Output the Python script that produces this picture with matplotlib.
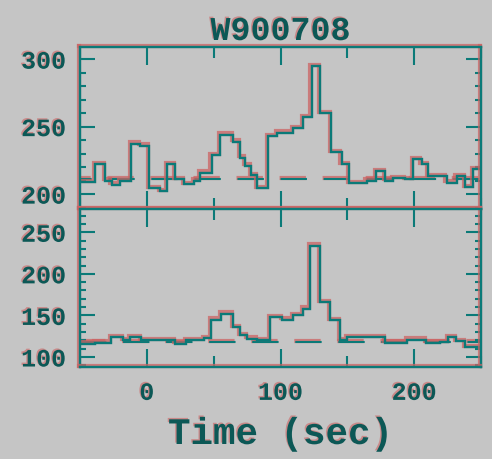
import numpy as np
import matplotlib
matplotlib.use('Agg')
import matplotlib.pyplot as plt
import matplotlib.patheffects as pe
from matplotlib.ticker import MultipleLocator

# light curves (time in sec, counts per bin)
title = 'W900708'
xlabel = 'Time (sec)'

top_edges = [-50, -38.8, -31.3, -26.4, -20.1, -11.5, -5.1, 1.6, 9.8, 15.1,
             21.4, 27.8, 35.3, 39.8, 48.4, 54.7, 64.8, 69.7, 73.4, 78.3,
             82.4, 90.6, 97.4, 109.3, 116.8, 123.2, 129.5, 138.1, 145.8, 151.2,
             164.5, 171.4, 178.2, 184.2, 193.1, 199.1, 205.5, 210.3, 224.2, 231.7,
             238.0, 244.2, 250]
top_counts = [209, 222, 210, 207, 209.5, 237.5, 236, 204.5, 202, 222,
              211, 207.5, 210, 216, 229, 244, 239, 227, 221, 214,
              204.5, 243, 245.5, 249, 257, 295, 260, 231, 222, 208,
              210, 217, 210, 212, 211, 226, 222, 213.5, 208.5, 213.5,
              205, 218.5]
top_bkg = 211

bot_edges = [-50, -38.8, -26.8, -17.8, -12.6, -4.4, 21.1, 29.3, 42.8, 48.0,
             55.5, 64.5, 69.7, 74.9, 82.4, 92.1, 101.1, 109.3, 116.8, 122.1,
             129.5, 137.0, 144.5, 149.7, 178.2, 194.6, 208.8, 219.3, 225.3, 231.3,
             238.0, 250]
bot_counts = [116, 117, 124, 120, 124, 120, 116, 120, 123, 145,
              152, 136, 126, 122, 120, 148, 145, 150, 158, 234,
              166, 144, 120, 124, 117, 121, 117, 118, 124, 119,
              112]
bot_bkg = 118

BG = '#c5c5c5'
TEAL = '#0b7a78'
RED = '#cc6262'
DARK = '#0c5856'

plt.rcParams['font.family'] = ['Liberation Mono', 'DejaVu Sans Mono']
plt.rcParams['font.weight'] = 'bold'
plt.rcParams['lines.scale_dashes'] = False

line_fx = [pe.SimpleLineShadow(offset=(-1, 1), shadow_color=RED, alpha=0.75, linewidth=3),
           pe.Normal()]
text_fx = [pe.withSimplePatchShadow(offset=(-1, 1), shadow_rgbFace=RED, alpha=0.6)]

fig = plt.figure(figsize=(4.92, 4.60), dpi=100, facecolor=BG)
ax1 = fig.add_axes([80 / 492, 1 - 210 / 460, 401 / 492, 162 / 460])
ax2 = fig.add_axes([80 / 492, 1 - 368 / 460, 401 / 492, 158 / 460], sharex=ax1)

panels = [(ax1, top_edges, top_counts, top_bkg, (189, 309), (10.6, (19, 12))),
          (ax2, bot_edges, bot_counts, bot_bkg, (88, 278), (0, (19, 12)))]

for ax, edges, counts, bkg, ylim, dash in panels:
    ax.set_facecolor(BG)
    ax.axhline(bkg, color=TEAL, lw=1.5, ls=dash, zorder=1, path_effects=line_fx)
    st = ax.stairs(counts, edges, baseline=None, color=TEAL, lw=1.7, zorder=2)
    st.set_path_effects(line_fx)
    ax.set_xlim(-50, 250)
    ax.set_ylim(*ylim)
    ax.xaxis.set_major_locator(MultipleLocator(100))
    ax.xaxis.set_minor_locator(MultipleLocator(50))
    ax.yaxis.set_major_locator(MultipleLocator(50))
    ax.yaxis.set_minor_locator(MultipleLocator(10))
    ax.tick_params(which='both', direction='in', top=True, right=True,
                   color=TEAL, width=1.5, labelcolor=DARK, labelsize=18, pad=10)
    ax.tick_params(axis='x', which='major', length=13)
    ax.tick_params(axis='x', which='minor', length=8)
    ax.tick_params(axis='y', which='major', length=11)
    ax.tick_params(axis='y', which='minor', length=4.5)
    for sp in ax.spines.values():
        sp.set_color(TEAL)
        sp.set_linewidth(1.7)
        sp.set_path_effects(line_fx)
    for lab in ax.get_xticklabels() + ax.get_yticklabels():
        lab.set_path_effects(text_fx)

ax1.tick_params(labelbottom=False)

t = ax1.set_title(title, fontsize=24, fontweight='bold', color=DARK, pad=4)
t.set_path_effects(text_fx)
xl = ax2.set_xlabel(xlabel, fontsize=27, fontweight='bold', color=DARK, labelpad=8)
xl.set_path_effects(text_fx)

fig.savefig('out.png', dpi=100, facecolor=BG)
